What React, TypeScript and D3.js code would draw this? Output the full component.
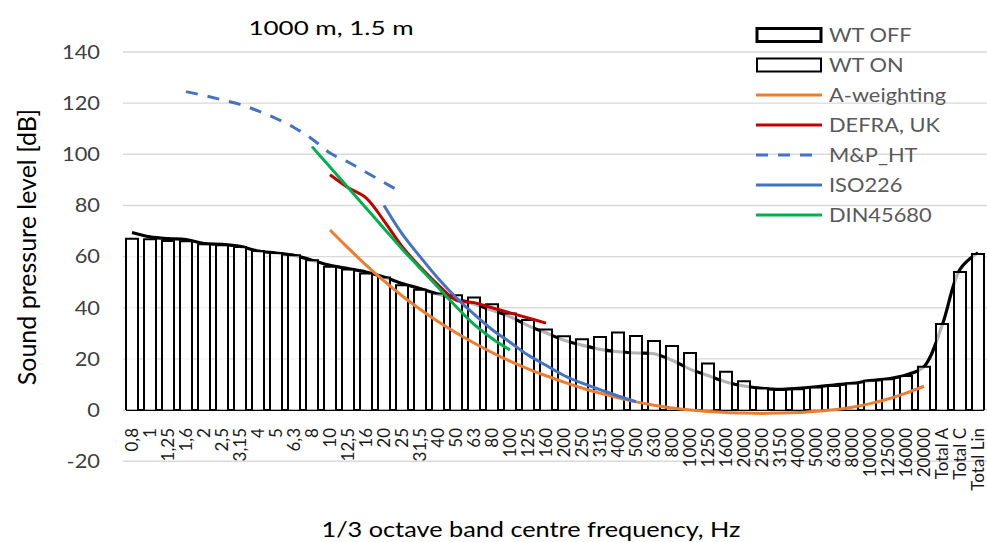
import React, { useEffect, useRef } from 'react'
import * as d3 from 'd3'

// 1/3 octave bands + totals
const bands = [
  '0,8', '1', '1,25', '1,6', '2', '2,5', '3,15', '4', '5', '6,3',
  '8', '10', '12,5', '16', '20', '25', '31,5', '40', '50', '63',
  '80', '100', '125', '160', '200', '250', '315', '400', '500', '630',
  '800', '1000', '1250', '1600', '2000', '2500', '3150', '4000', '5000', '6300',
  '8000', '10000', '12500', '16000', '20000', 'Total A', 'Total C', 'Total Lin',
]

const wtOff = [
  69.4, 67.7, 67, 66.7, 65.1, 64.8, 64, 62.2, 61.4, 60.5,
  58.6, 56.6, 55.3, 54, 52, 49.5, 47.5, 45.3, 43.5, 41.5,
  39, 36.5, 33, 30.2, 27.3, 25.4, 23.7, 22.8, 22.3, 22,
  19.5, 16, 13.5, 11, 9.4, 8.5, 8.1, 8.5, 9.1, 9.8,
  10.4, 11.5, 12.2, 13.7, 17, 33, 55, 61.5,
]

const wtOn = [
  67, 66.8, 66.1, 66, 64.8, 64.4, 63.8, 62.2, 61.4, 60.5,
  58.6, 56, 55, 53.4, 51.8, 48.8, 47, 45.6, 44.9, 44,
  41.4, 37.8, 35.2, 31.5, 28.9, 27.7, 28.6, 30.3, 29, 27,
  25, 22.3, 18.2, 15, 11.3, 8.5, 7.8, 8.1, 8.8, 9.4,
  10.4, 11.5, 12, 13.3, 16.9, 33.6, 54, 61,
]

const aWeightBands = [
  '10', '12,5', '16', '20', '25', '31,5', '40', '50', '63', '80',
  '100', '125', '160', '200', '250', '315', '400', '500', '630', '800',
  '1000', '1250', '1600', '2000', '2500', '3150', '4000', '5000', '6300', '8000',
  '10000', '12500', '16000', '20000',
]
const aWeight = [
  70.4, 63.4, 56.7, 50.5, 44.7, 39.4, 34.6, 30.2, 26.2, 22.5,
  19.1, 16.1, 13.4, 10.9, 8.6, 6.6, 4.8, 3.2, 1.9, 0.8,
  0, -0.6, -1.0, -1.2, -1.3, -1.2, -1.0, -0.5, 0.1, 1.1,
  2.5, 4.3, 6.6, 9.3,
]

const defraBands = ['10', '12,5', '16', '20', '25', '31,5', '40', '50', '63', '80', '100', '125', '160']
const defra = [92, 87, 83, 74, 64, 56, 49, 43, 42, 40, 38, 36, 34]

const mpBands = ['1,6', '2', '2,5', '3,15', '4', '5', '6,3', '8', '10', '12,5', '16', '20', '25']
const mpHt = [124.5, 123, 121.3, 119.5, 117, 114, 110.5, 106, 100.5, 97, 93, 89, 85]

const isoBands = ['20', '25', '31,5', '40', '50', '63', '80', '100', '125', '160', '200', '250', '315', '400', '500']
const iso226 = [80, 69, 60, 51.5, 44, 37.5, 31.5, 26.5, 21.5, 17.5, 13.5, 10.5, 8, 5.5, 3.3]

const dinBands = ['8', '10', '12,5', '16', '20', '25', '31,5', '40', '50', '63', '80', '100']
const din45680 = [103, 95, 87, 79, 71, 63, 55.5, 48, 40.5, 33.5, 28, 23.5]

const yTicks = [-20, 0, 20, 40, 60, 80, 100, 120, 140]

const legendNames = ['WT OFF', 'WT ON', 'A-weighting', 'DEFRA, UK', 'M&P_HT', 'ISO226', 'DIN45680']

const FONT = 'Lato, "Noto Sans", sans-serif'

export default function App() {
  const ref = useRef<SVGSVGElement>(null)

  useEffect(() => {
    const svg = d3.select(ref.current)
    svg.selectAll('*').remove()

    const left = 123
    const right = 987

    const x = d3
      .scaleBand<string>()
      .domain(bands)
      .range([left, right])
      .paddingInner(1 / 3)
      .paddingOuter(1 / 6)
    const y = d3.scaleLinear().domain([-20, 140]).range([461.2, 52])
    const cx = (b: string) => (x(b) as number) + x.bandwidth() / 2

    // gridlines
    svg
      .append('g')
      .selectAll('line')
      .data(yTicks)
      .enter()
      .append('line')
      .attr('x1', left)
      .attr('x2', right)
      .attr('y1', (d) => y(d))
      .attr('y2', (d) => y(d))
      .attr('stroke', '#d9d9d9')
      .attr('stroke-width', 1.4)

    // black base under the bars (shows in the gaps)
    svg
      .append('line')
      .attr('x1', x(bands[0]) as number)
      .attr('x2', (x(bands[bands.length - 1]) as number) + x.bandwidth())
      .attr('y1', y(0))
      .attr('y2', y(0))
      .attr('stroke', '#000')
      .attr('stroke-width', 2)

    // WT OFF as a smooth black line, sitting behind the WT ON bars
    const offLine = d3
      .line<number>()
      .x((_, i) => cx(bands[i]))
      .y((d) => y(d))
      .curve(d3.curveCatmullRom.alpha(0.5))
    svg
      .append('path')
      .attr('d', offLine(wtOff))
      .attr('fill', 'none')
      .attr('stroke', '#000')
      .attr('stroke-width', 3.2)

    // WT ON bars, slightly see-through white
    const bw = x.bandwidth()
    svg
      .append('g')
      .selectAll('path')
      .data(wtOn)
      .enter()
      .append('path')
      .attr('d', (d, i) => {
        const x0 = x(bands[i]) as number
        return `M${x0},${y(0)}V${y(d)}H${x0 + bw}V${y(0)}`
      })
      .attr('fill', '#fff')
      .attr('fill-opacity', 0.7)
      .attr('stroke', '#000')
      .attr('stroke-width', 2)

    // reference curves
    const curves = [
      { keys: aWeightBands, vals: aWeight, color: '#ED7D31', dash: null },
      { keys: defraBands, vals: defra, color: '#C00000', dash: null },
      { keys: mpBands, vals: mpHt, color: '#4472C4', dash: '12,10' },
      { keys: isoBands, vals: iso226, color: '#4472C4', dash: null },
      { keys: dinBands, vals: din45680, color: '#00B050', dash: null },
    ]
    curves.forEach((c) => {
      const line = d3
        .line<number>()
        .x((_, i) => cx(c.keys[i]))
        .y((d) => y(d))
        .curve(d3.curveCatmullRom.alpha(0.5))
      svg
        .append('path')
        .attr('d', line(c.vals))
        .attr('fill', 'none')
        .attr('stroke', c.color)
        .attr('stroke-width', 3)
        .attr('stroke-dasharray', c.dash)
    })

    // y tick labels
    svg
      .append('g')
      .selectAll('text')
      .data(yTicks)
      .enter()
      .append('text')
      .attr('transform', (d) => `translate(100,${y(d) + 6.8}) scale(1.15,1)`)
      .attr('text-anchor', 'end')
      .attr('font-family', FONT)
      .attr('font-size', 19)
      .attr('fill', '#404040')
      .text((d) => d)

    // x tick labels, rotated
    svg
      .append('g')
      .selectAll('text')
      .data(bands)
      .enter()
      .append('text')
      .attr('transform', (d) => `translate(${cx(d) + 5.5},428) rotate(-90)`)
      .attr('text-anchor', 'end')
      .attr('font-family', FONT)
      .attr('font-size', 17)
      .attr('fill', '#1a1a1a')
      .text((d) => d)

    // titles
    svg
      .append('text')
      .attr('transform', 'translate(331,35) scale(1.3,1)')
      .attr('text-anchor', 'middle')
      .attr('font-family', FONT)
      .attr('font-size', 20)
      .attr('fill', '#000')
      .text('1000 m, 1.5 m')

    svg
      .append('text')
      .attr('transform', 'translate(36,247) rotate(-90)')
      .attr('text-anchor', 'middle')
      .attr('font-family', FONT)
      .attr('font-size', 25)
      .attr('fill', '#000')
      .text('Sound pressure level [dB]')

    svg
      .append('text')
      .attr('transform', 'translate(531,537) scale(1.15,1)')
      .attr('text-anchor', 'middle')
      .attr('font-family', FONT)
      .attr('font-size', 22)
      .attr('fill', '#000')
      .text('1/3 octave band centre frequency, Hz')

    // legend
    const lg = svg
      .append('g')
      .selectAll('g')
      .data(legendNames)
      .enter()
      .append('g')
      .attr('transform', (_, i) => `translate(756,${35 + i * 30})`)

    lg.each(function (d, i) {
      const g = d3.select(this)
      if (i < 2) {
        g.append('rect')
          .attr('x', 1)
          .attr('y', -6.5)
          .attr('width', 64)
          .attr('height', 13)
          .attr('fill', '#fff')
          .attr('stroke', '#000')
          .attr('stroke-width', i === 0 ? 3 : 2)
      } else {
        const c = curves[i - 2]
        g.append('line')
          .attr('x1', 0)
          .attr('x2', 66)
          .attr('stroke', c.color)
          .attr('stroke-width', 3)
          .attr('stroke-dasharray', c.dash)
      }
      g.append('text')
        .attr('transform', 'translate(73,7) scale(1.12,1)')
        .attr('font-family', FONT)
        .attr('font-size', 19.5)
        .attr('fill', '#595959')
        .text(d)
    })
  }, [])

  return (
    <svg
      ref={ref}
      width={987}
      height={542}
      style={{ position: 'absolute', left: 0, top: 0, background: '#fff' }}
    />
  )
}
